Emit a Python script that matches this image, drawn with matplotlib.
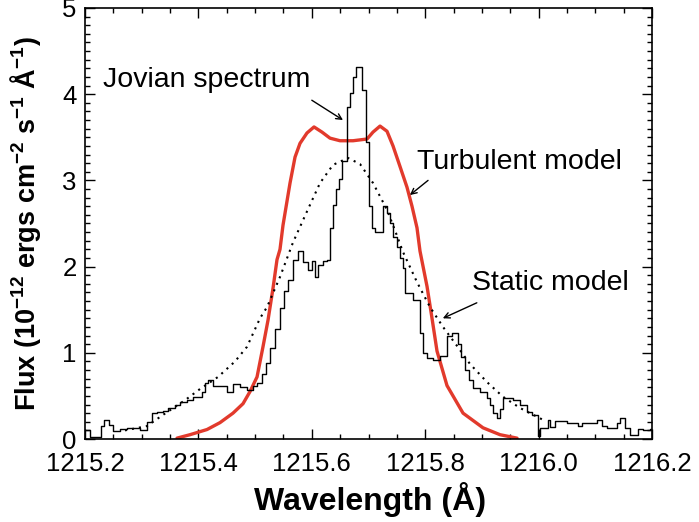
import matplotlib
matplotlib.use("Agg")
import matplotlib.pyplot as plt
from matplotlib.ticker import MultipleLocator, FormatStrFormatter

# Jovian spectrum: bin left edges (Angstrom) and flux in each bin
spec_x = [1215.2000, 1215.2088, 1215.2282, 1215.2335, 1215.2423, 1215.2494, 1215.2617,
          1215.2741, 1215.2970, 1215.3093, 1215.3182, 1215.3270, 1215.3376, 1215.3464,
          1215.3587, 1215.3676, 1215.3799, 1215.3905, 1215.4063, 1215.4116, 1215.4169,
          1215.4257, 1215.4381, 1215.4504, 1215.4610, 1215.4734, 1215.4857, 1215.4963,
          1215.5034, 1215.5122, 1215.5192, 1215.5263, 1215.5351, 1215.5439, 1215.5510,
          1215.5580, 1215.5668, 1215.5757, 1215.5845, 1215.5933, 1215.6004, 1215.6056,
          1215.6109, 1215.6198, 1215.6268, 1215.6321, 1215.6374, 1215.6427, 1215.6480,
          1215.6533, 1215.6621, 1215.6674, 1215.6727, 1215.6780, 1215.6885, 1215.6956,
          1215.7009, 1215.7062, 1215.7115, 1215.7256, 1215.7326, 1215.7379, 1215.7432,
          1215.7503, 1215.7556, 1215.7608, 1215.7644, 1215.7785, 1215.7908, 1215.7961,
          1215.8032, 1215.8138, 1215.8261, 1215.8384, 1215.8473, 1215.8579, 1215.8631,
          1215.8702, 1215.8772, 1215.8843, 1215.8966, 1215.9090, 1215.9143, 1215.9196,
          1215.9266, 1215.9319, 1215.9372, 1215.9548, 1215.9672, 1215.9795, 1215.9884,
          1215.9989, 1216.0025, 1216.0166, 1216.0201, 1216.0289, 1216.0501, 1216.0695,
          1216.0765, 1216.1030, 1216.1118, 1216.1206, 1216.1383, 1216.1436, 1216.1524,
          1216.1612, 1216.1753, 1216.1841, 1216.1965, 1216.2000]
spec_y = [0.10, 0.02, 0.15, 0.22, 0.16, 0.09, 0.12,
          0.13, 0.11, 0.20, 0.30, 0.31, 0.33, 0.36,
          0.39, 0.43, 0.45, 0.49, 0.55, 0.65, 0.68,
          0.62, 0.61, 0.54, 0.64, 0.60, 0.57, 0.61,
          0.65, 0.75, 0.88, 1.05, 1.28, 1.52, 1.72,
          1.84, 2.08, 2.18, 2.05, 1.96, 2.07, 1.88,
          2.02, 2.06, 2.08, 2.45, 2.72, 2.90, 3.02,
          3.22, 3.85, 4.01, 4.20, 4.32, 4.05, 3.45,
          2.70, 2.45, 2.40, 2.70, 2.62, 2.50, 2.34,
          2.23, 2.10, 1.98, 1.69, 1.61, 1.23, 1.00,
          0.94, 0.92, 0.96, 1.20, 1.23, 1.10, 0.95,
          0.80, 0.68, 0.59, 0.54, 0.48, 0.40, 0.30,
          0.24, 0.35, 0.47, 0.45, 0.39, 0.31, 0.28,
          0.03, 0.13, 0.22, 0.14, 0.21, 0.19, 0.15,
          0.19, 0.22, 0.15, 0.13, 0.18, 0.24, 0.13,
          0.05, 0.12, 0.11, 0.12, 0.12]

# Static model (dotted)
static_x = [1215.2705, 1215.3093, 1215.3376, 1215.3764, 1215.4028, 1215.4346, 1215.4646,
            1215.4857, 1215.5086, 1215.5210, 1215.5439, 1215.5668, 1215.5915, 1215.6145,
            1215.6374, 1215.6639, 1215.6850, 1215.7079, 1215.7326, 1215.7467, 1215.7608,
            1215.7855, 1215.8085, 1215.8314, 1215.8561, 1215.8790, 1215.9090, 1215.9372,
            1215.9672, 1216.0113]
static_y = [0.10, 0.15, 0.28, 0.45, 0.58, 0.72, 0.90,
            1.07, 1.40, 1.53, 1.88, 2.28, 2.64, 2.97,
            3.18, 3.26, 3.19, 2.97, 2.66, 2.42, 2.17,
            1.82, 1.53, 1.30, 1.08, 0.87, 0.66, 0.49,
            0.36, 0.21]

# Turbulent model (red)
turb_x = [1215.3623, 1215.3852, 1215.4152, 1215.4381, 1215.4610, 1215.4787, 1215.4910,
          1215.5034, 1215.5139, 1215.5228, 1215.5316, 1215.5386, 1215.5439, 1215.5492,
          1215.5616, 1215.5704, 1215.5792, 1215.5915, 1215.6039, 1215.6180, 1215.6321,
          1215.6497, 1215.6727, 1215.6974, 1215.7079, 1215.7203, 1215.7326, 1215.7432,
          1215.7556, 1215.7679, 1215.7767, 1215.7855, 1215.7908, 1215.8032, 1215.8120,
          1215.8208, 1215.8384, 1215.8667, 1215.9019, 1215.9319, 1215.9619]
turb_y = [0.01, 0.05, 0.11, 0.19, 0.30, 0.41, 0.55,
          0.72, 1.07, 1.38, 1.75, 2.08, 2.20, 2.48,
          2.97, 3.27, 3.43, 3.55, 3.62, 3.56, 3.49,
          3.46, 3.46, 3.48, 3.56, 3.63, 3.57, 3.40,
          3.16, 2.92, 2.70, 2.45, 2.18, 1.77, 1.40,
          1.02, 0.62, 0.30, 0.13, 0.05, 0.01]

plt.rcParams["font.family"] = ["Liberation Sans", "DejaVu Sans"]
plt.rcParams["mathtext.fontset"] = "custom"
plt.rcParams["mathtext.rm"] = "Liberation Sans"
plt.rcParams["mathtext.bf"] = "Liberation Sans:bold"

fig = plt.figure(figsize=(6.99, 5.22), dpi=100)
ax = fig.add_axes([0.1216, 0.159, 0.8112, 0.8257])

ax.plot(turb_x, turb_y, color="#e23a2c", lw=2.4, zorder=2, solid_capstyle="round")
ax.plot(static_x, static_y, color="black", lw=1.5, ls=(0, (1, 2.4)), zorder=2)
ax.step(spec_x, spec_y, where="post", color="black", lw=1.0, zorder=3)

ax.set_xlim(1215.2, 1216.2)
ax.set_ylim(0, 5)
ax.xaxis.set_major_locator(MultipleLocator(0.2))
ax.xaxis.set_minor_locator(MultipleLocator(0.05))
ax.xaxis.set_major_formatter(FormatStrFormatter("%.1f"))
ax.yaxis.set_major_locator(MultipleLocator(1))
ax.yaxis.set_minor_locator(MultipleLocator(0.1))

ax.tick_params(which="both", direction="in", top=True, right=True, width=1.0)
ax.tick_params(which="major", length=7, labelsize=18.5, pad=6)
ax.tick_params(axis="x", which="major", pad=9)
ax.tick_params(which="minor", length=3.5)
for s in ax.spines.values():
    s.set_linewidth(1.2)

ax.set_xlabel("Wavelength (Å)", fontsize=23, fontweight="bold")
ax.xaxis.set_label_coords(0.503, -0.10)
ax.set_ylabel(r"Flux (10$^{\mathbf{-12}}$ ergs cm$^{\mathbf{-2}}$ s$^{\mathbf{-1}}$ Å$^{\mathbf{-1}}$)",
              fontsize=19.5, fontweight="bold")
ax.yaxis.set_label_coords(-0.074, 0.5)

arrow = dict(arrowstyle="->", color="black", lw=1.0, shrinkA=0, shrinkB=0)
ann_font = dict(fontsize=20.5, va="center", ha="left")
ax.annotate("", xy=(1215.655, 3.70), xytext=(1215.600, 3.93), arrowprops=arrow)
ax.text(1215.232, 4.16, "Jovian spectrum", **ann_font)
ax.annotate("", xy=(1215.773, 2.83), xytext=(1215.805, 3.0), arrowprops=arrow)
ax.text(1215.786, 3.21, "Turbulent model", **ann_font)
ax.annotate("", xy=(1215.831, 1.40), xytext=(1215.891, 1.58), arrowprops=arrow)
ax.text(1215.883, 1.81, "Static model", **ann_font)

fig.savefig("out.png", dpi=100)
